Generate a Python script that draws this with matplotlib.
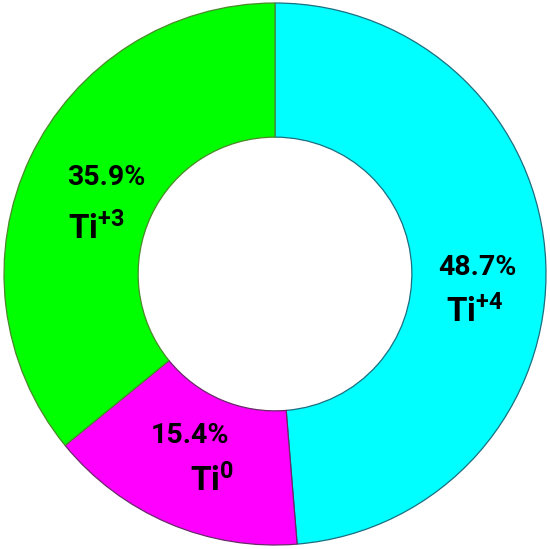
import matplotlib.pyplot as plt

plt.rcParams['font.family'] = ['Roboto', 'DejaVu Sans']
plt.rcParams['mathtext.fontset'] = 'custom'
plt.rcParams['mathtext.rm'] = 'Roboto:bold'
plt.rcParams['mathtext.it'] = 'Roboto:bold'
plt.rcParams['mathtext.bf'] = 'Roboto:bold'

labels = ["Ti$^{+4}$", "Ti$^{0}$", "Ti$^{+3}$"]
values = [48.7, 15.4, 35.9]
colors = ["#00ffff", "#ff00ff", "#00ff00"]
edges = ["#1a6f80", "#6a2a6a", "#4a8a2a"]

fig = plt.figure(figsize=(5.5, 5.49), dpi=100)
ax = fig.add_axes([0, 0, 1, 1])
r = 271.0

wedges, _ = ax.pie(values, colors=colors, startangle=90, counterclock=False,
                   radius=1, wedgeprops=dict(width=0.495, linewidth=0.9))
for w, ec in zip(wedges, edges):
    w.set_edgecolor(ec)
ax.set_aspect('auto')
ax.set_xlim(-275 / r, 275 / r)
ax.set_ylim(-275 / r, 274 / r)
ax.axis('off')

# label positions in pixels (from the reference), converted to data coords
pct_pos = [(477, 268), (190, 436), (106, 178)]
lab_pos = [(475, 312), (212, 481), (96, 229)]
for v, lab, (px, py), (lx, ly) in zip(values, labels, pct_pos, lab_pos):
    ax.text((px - 275) / r, (274 - py) / r, f"{v}%", ha='center', va='center',
            fontsize=20.5, fontweight='bold')
    ax.text((lx - 275) / r, (274 - ly) / r, lab, ha='center', va='center',
            fontsize=24, fontweight='bold')

fig.savefig("out.png", dpi=100)
